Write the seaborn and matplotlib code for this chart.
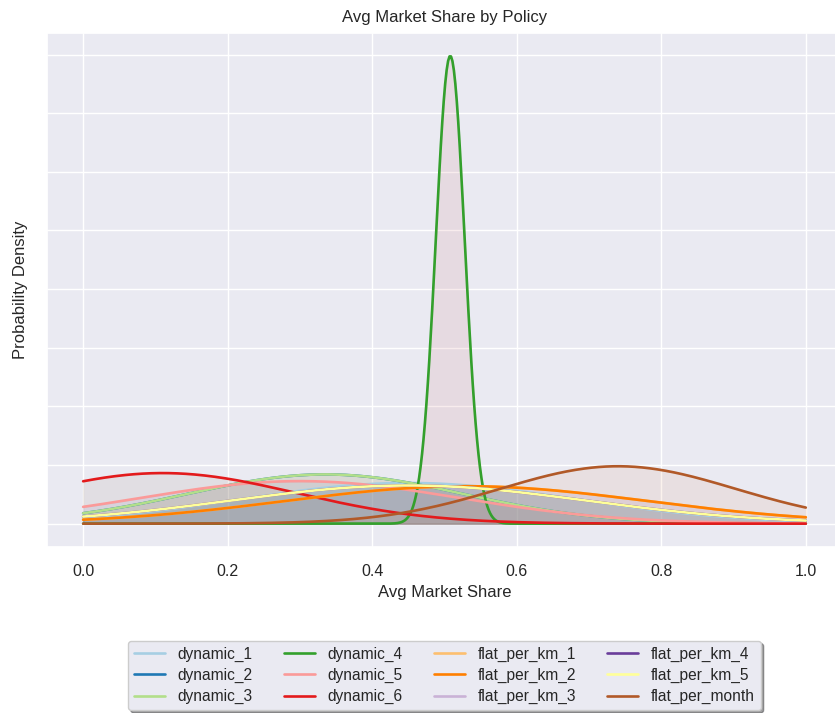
import numpy as np
import pandas as pd
import matplotlib
matplotlib.use("Agg")
import matplotlib.pyplot as plt
from matplotlib.lines import Line2D
import seaborn as sns

policies = ["dynamic_1", "dynamic_2", "dynamic_3", "dynamic_4", "dynamic_5", "dynamic_6",
            "flat_per_km_1", "flat_per_km_2", "flat_per_km_3", "flat_per_km_4",
            "flat_per_km_5", "flat_per_month"]
# mean / std of avg market share per policy (hidden ones sit under a later curve)
means = [0.45, 0.335, 0.335, 0.508, 0.30, 0.11, 0.53, 0.53, 0.45, 0.45, 0.45, 0.74]
stds = [0.23, 0.19, 0.19, 0.02, 0.22, 0.185, 0.25, 0.25, 0.245, 0.245, 0.245, 0.163]

sns.set_theme(style="darkgrid")
plt.rcParams["font.family"] = ["Liberation Sans", "DejaVu Sans"]

line_colors = sns.color_palette("Paired", 12)
fill_colors = sns.color_palette("deep", 10)

x = np.linspace(0, 1, 500)
rows = []
for p, m, s in zip(policies, means, stds):
    y = np.exp(-(x - m) ** 2 / (2 * s ** 2)) / (s * np.sqrt(2 * np.pi))
    rows.append(pd.DataFrame({"share": x, "density": y, "policy": p}))
df = pd.concat(rows)

fig = plt.figure(figsize=(8.35, 7.13), dpi=100)
ax = fig.add_axes([0.0563, 0.2328, 0.952, 0.7209])

for i, p in enumerate(policies):
    d = df[df.policy == p]
    sns.lineplot(data=d, x="share", y="density", color=line_colors[i], lw=1.9, ax=ax)
    ax.fill_between(d.share, d.density, color=fill_colors[i % 10], alpha=0.1)

ax.set_yticklabels([])
ax.tick_params(axis="x", labelsize=11.5, pad=6.5)
ax.set_title("Avg Market Share by Policy", fontsize=12, pad=8)
ax.set_xlabel("Avg Market Share", fontsize=12)
ax.set_ylabel("Probability Density", fontsize=12)

handles = [Line2D([0], [0], color=line_colors[i], lw=1.9) for i in range(len(policies))]
ax.legend(handles, policies, loc="upper center", bbox_to_anchor=(0.5, -0.167),
          ncol=4, shadow=True, fontsize=11.2, labelspacing=0.38)

fig.savefig("out.png", dpi=100)
